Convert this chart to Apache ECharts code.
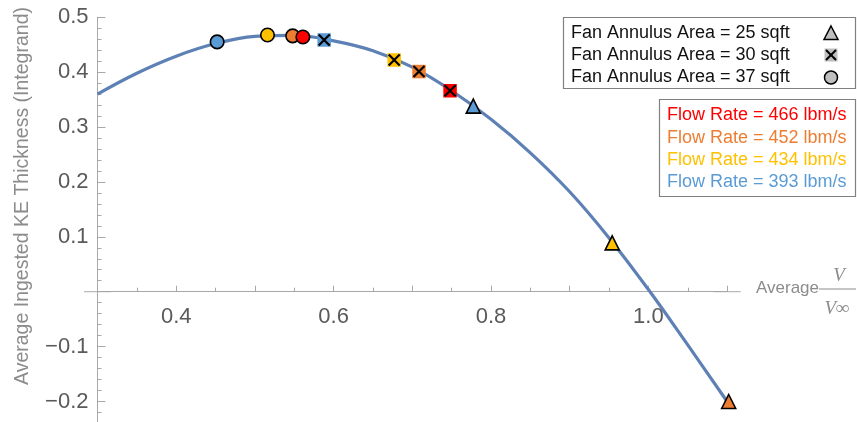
<!DOCTYPE html>
<html><head><meta charset="utf-8">
<script src="https://cdn.jsdelivr.net/npm/echarts@6/dist/echarts.min.js"></script>
<style>html,body{margin:0;padding:0;background:#fff}#c{width:857px;height:422px}</style>
</head><body><div id="c"></div>
<script>
// ---- data ----
const flowRates = [393, 434, 452, 466];           // drawing order (466 drawn last, on top)
const areas = [25, 30, 37];
const curveX = [0.30,0.35,0.40,0.45,0.50,0.55,0.60,0.65,0.70,0.75,0.80,0.85,0.90,0.95,1.00,1.05,1.10];
const curveY = [0.360,0.398,0.429,0.452,0.465,0.467,0.457,0.439,0.409,0.366,0.314,0.253,0.182,0.098,0.004,-0.097,-0.200];
// points per flow rate (order of flowRates); null = not shown
const area25Points = [[0.7775,0.338],[0.954,0.089],[1.102,-0.200],null];
const area30Points = [[0.588,0.4585],[0.677,0.422],[0.7085,0.401],[0.748,0.366]];
const area37Points = [[0.452,0.455],[0.516,0.4676],[0.548,0.466],[0.561,0.464]];
const xTickLabels = [0.4,0.6,0.8,1.0];
const yTickLabels = [-0.2,-0.1,0.1,0.2,0.3,0.4,0.5];

// ---- styles ----
const flowColors = {393:'#5b9bd5',434:'#ffc000',452:'#ed7d31',466:'#ff0000'};
const FONT = '"Liberation Sans", Arial, sans-serif';
const SERIF = '"Liberation Serif", "DejaVu Serif", serif';
const axisGray = '#a8a8a8';
const labelGray = '#5a5a5a';
const titleGray = '#8c8c8c';

function pts(arr){
  const out=[];
  arr.forEach((p,i)=>{ if(p) out.push({value:p, itemStyle:{color:flowColors[flowRates[i]]}}); });
  return out;
}
const curveData = curveX.map((x,i)=>[x,curveY[i]]);
const fmtNum = v => (v<0?'\u2212':'') + Math.abs(v).toFixed(1);

const chart = echarts.init(document.getElementById('c'), null, {renderer:'canvas'});
const legendRows1 = areas.map(a => 'Fan Annulus Area = ' + a + ' sqft');
const legendRows2 = flowRates.slice().reverse().map(f => 'Flow Rate = ' + f + ' lbm/s');

const graphics = [
  {type:'text', x:23, y:196, rotation:Math.PI/2,
   style:{text:'Average Ingested KE Thickness (Integrand)', font:'19.5px '+FONT, fill:titleGray, textAlign:'center', textVerticalAlign:'middle'}},
  {type:'text', x:756, y:288, style:{text:'Average', font:'17px '+FONT, fill:titleGray, textAlign:'left', textVerticalAlign:'middle'}},
  {type:'text', x:839, y:276, style:{text:'V', font:'italic 19px '+SERIF, fill:titleGray, textAlign:'center', textVerticalAlign:'middle'}},
  {type:'line', shape:{x1:819, y1:289, x2:856, y2:289}, style:{stroke:titleGray, lineWidth:1.2}},
  {type:'text', x:837, y:309, style:{text:'V\u221E', font:'italic 19px '+SERIF, fill:titleGray, textAlign:'center', textVerticalAlign:'middle'}},
  {type:'rect', shape:{x:563.5, y:17.5, width:292, height:71}, style:{fill:'#fff', stroke:'#808080', lineWidth:1.2}, z:10},
  {type:'rect', shape:{x:659.5, y:99.5, width:196, height:97}, style:{fill:'#fff', stroke:'#808080', lineWidth:1.2}, z:10},
  {type:'polygon', shape:{points:[[831,26],[838,39.5],[824,39.5]]}, style:{fill:'#bfbfbf', stroke:'#000', lineWidth:1.5}, z:11},
  {type:'rect', shape:{x:824.5, y:48.5, width:13, height:13}, style:{fill:'#bfbfbf'}, z:11},
  {type:'line', shape:{x1:826, y1:50, x2:836, y2:60}, style:{stroke:'#000', lineWidth:2}, z:12},
  {type:'line', shape:{x1:836, y1:50, x2:826, y2:60}, style:{stroke:'#000', lineWidth:2}, z:12},
  {type:'circle', shape:{cx:831, cy:77.5, r:6.5}, style:{fill:'#bfbfbf', stroke:'#000', lineWidth:1.5}, z:11}
];
legendRows1.forEach((t,i)=>graphics.push({type:'text', x:571, y:33.5+22*i, z:11,
  style:{text:t, font:'18px '+FONT, fill:'#111', textAlign:'left', textVerticalAlign:'middle'}}));
legendRows2.forEach((t,i)=>graphics.push({type:'text', x:667, y:115.5+22.2*i, z:11,
  style:{text:t, font:'18px '+FONT, fill:flowColors[flowRates[flowRates.length-1-i]], textAlign:'left', textVerticalAlign:'middle'}}));

chart.setOption({
  animation:false,
  backgroundColor:'#fff',
  grid:{left:97.5, right:129.9, top:17.2, bottom:-34.4, containLabel:false, outerBoundsMode:'none'},
  xAxis:{type:'value', min:0.3, max:1.1, interval:0.1, offset:-164.7,
    axisLine:{onZero:false, lineStyle:{color:axisGray, width:1}, symbol:['rect','rect'], symbolSize:[1,27]},
    axisTick:{inside:true, length:6, lineStyle:{color:axisGray}},
    minorTick:{show:true, splitNumber:2, length:4, lineStyle:{color:axisGray}},
    splitLine:{show:false},
    axisLabel:{margin:14, color:labelGray, fontSize:22, fontFamily:FONT,
      formatter:v=>{const r=Math.round(v*10)/10; return xTickLabels.some(t=>Math.abs(t-r)<1e-6)?fmtNum(r):'';}}},
  yAxis:{type:'value', min:-0.3, max:0.5, interval:0.1,
    axisLine:{lineStyle:{color:axisGray, width:1}},
    axisTick:{inside:true, length:8, lineStyle:{color:axisGray}},
    minorTick:{show:true, splitNumber:5, length:4, lineStyle:{color:axisGray}},
    splitLine:{show:false},
    axisLabel:{margin:9, color:labelGray, fontSize:22, fontFamily:FONT,
      formatter:v=>{const r=Math.round(v*10)/10; return yTickLabels.some(t=>Math.abs(t-r)<1e-6)?fmtNum(r):'';}}},
  graphic:graphics,
  series:[
    {type:'line', data:curveData, smooth:0.4, showSymbol:false, symbol:'none', clip:false,
     lineStyle:{color:'#5e81b5', width:3.2}, z:2},
    {type:'scatter', data:pts(area25Points), symbol:'triangle', symbolSize:14, clip:false,
     itemStyle:{borderColor:'#000', borderWidth:1.6, opacity:1}, z:3},
    {type:'scatter', data:pts(area30Points), symbol:'rect', symbolSize:13.5, clip:false,
     itemStyle:{borderWidth:0, opacity:1}, z:3},
    {type:'scatter', data:area30Points.filter(p=>p), symbol:'path://M0,0L10,10M10,0L0,10', symbolSize:11, clip:false,
     itemStyle:{color:'rgba(0,0,0,0)', borderColor:'#000', borderWidth:2.2, opacity:1}, z:4},
    {type:'scatter', data:pts(area37Points), symbol:'circle', symbolSize:13.5, clip:false,
     itemStyle:{borderColor:'#000', borderWidth:1.6, opacity:1}, z:5}
  ]
});
</script></body></html>
